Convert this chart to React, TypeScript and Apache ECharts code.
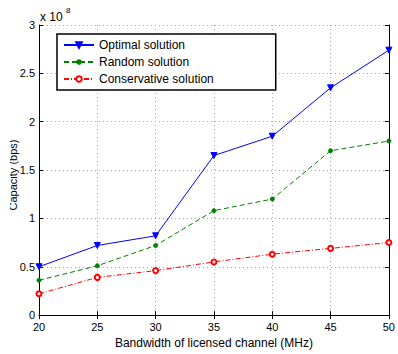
import React, { useEffect, useRef } from "react";
import * as echarts from "echarts";

const bandwidth = [20, 25, 30, 35, 40, 45, 50];
const optimal = [0.5, 0.72, 0.82, 1.65, 1.85, 2.35, 2.74];
const random = [0.36, 0.51, 0.72, 1.08, 1.2, 1.7, 1.8];
const conservative = [0.22, 0.39, 0.46, 0.55, 0.63, 0.69, 0.75];
const seriesNames = ["Optimal solution", "Random solution", "Conservative solution"];

const FONT = "Liberation Sans";

export default function App() {
  const ref = useRef<HTMLDivElement>(null);
  useEffect(() => {
    if (!ref.current) return;
    const chart = echarts.init(ref.current, undefined, { renderer: "svg" });
    const pair = (ys: number[]) => bandwidth.map((x, i) => [x, ys[i]]);
    const axisCommon = {
      axisLine: { show: true, lineStyle: { color: "#000", width: 1 } },
      axisTick: { show: true, inside: true, length: 4, lineStyle: { color: "#000" } },
    };
    chart.setOption({
      animation: false,
      backgroundColor: "#fff",
      textStyle: { fontFamily: FONT },
      grid: { left: 39, right: 6, top: 25, bottom: 32, containLabel: false },
      xAxis: [
        {
          type: "value",
          min: 20,
          max: 50,
          interval: 5,
          position: "bottom",
          ...axisCommon,
          axisLabel: { color: "#000", fontSize: 11, fontFamily: FONT, margin: 6 },
          splitLine: { show: true, lineStyle: { type: [1, 3], color: "#aaa" } },
          name: "Bandwidth of licensed channel (MHz)",
          nameLocation: "middle",
          nameGap: 16,
          nameTextStyle: { color: "#000", fontSize: 12, fontFamily: FONT },
        },
        {
          type: "value",
          min: 20,
          max: 50,
          interval: 5,
          position: "top",
          ...axisCommon,
          axisLabel: { show: false },
          splitLine: { show: false },
        },
      ],
      yAxis: [
        {
          type: "value",
          min: 0,
          max: 3,
          interval: 0.5,
          position: "left",
          ...axisCommon,
          axisLabel: { color: "#000", fontSize: 11, fontFamily: FONT, margin: 4 },
          splitLine: { show: true, lineStyle: { type: [1, 3], color: "#aaa" } },
        },
        {
          type: "value",
          min: 0,
          max: 3,
          interval: 0.5,
          position: "right",
          ...axisCommon,
          axisLabel: { show: false },
          splitLine: { show: false },
        },
      ],
      legend: {
        show: true,
        orient: "vertical",
        left: 57,
        top: 34,
        padding: [4, 62, 4, 6],
        itemGap: 3,
        itemWidth: 30,
        itemHeight: 7,
        borderColor: "#000",
        borderWidth: 1.5,
        backgroundColor: "#fff",
        textStyle: { color: "#000", fontSize: 12, fontFamily: FONT, lineHeight: 14 },
        data: seriesNames,
      },
      graphic: [
        {
          type: "text",
          left: 40,
          top: 11,
          style: { text: "x 10", fontSize: 12, fontFamily: FONT, fill: "#000" },
        },
        {
          type: "text",
          left: 66,
          top: 6,
          style: { text: "8", fontSize: 8, fontFamily: FONT, fill: "#000" },
        },
        {
          type: "text",
          x: 13,
          y: 175,
          rotation: Math.PI / 2,
          style: {
            text: "Capacity (bps)",
            fontSize: 11,
            fontFamily: FONT,
            fill: "#000",
            align: "center",
            verticalAlign: "middle",
          },
          z: 10,
        },
        {
          type: "rect",
          shape: { x: 0, y: 120, width: 10, height: 110 },
          style: { fill: "#fff" },
          z: 20,
        },
      ],
      series: [
        {
          name: seriesNames[0],
          type: "line",
          data: pair(optimal),
          symbol: "triangle",
          symbolRotate: 180,
          symbolSize: 6,
          showAllSymbol: true,
          itemStyle: { color: "#0000ff", borderColor: "#0000ff", borderWidth: 1 },
          lineStyle: { color: "#0000ff", width: 1, type: "solid" },
        },
        {
          name: seriesNames[1],
          type: "line",
          data: pair(random),
          symbol: "circle",
          symbolSize: 4,
          showAllSymbol: true,
          itemStyle: { color: "#008000", borderColor: "#008000" },
          lineStyle: { color: "#008000", width: 1, type: [5, 3] },
        },
        {
          name: seriesNames[2],
          type: "line",
          data: pair(conservative),
          symbol: "emptyCircle",
          symbolSize: 5,
          showAllSymbol: true,
          itemStyle: { color: "#ff0000", borderColor: "#ff0000", borderWidth: 1 },
          lineStyle: { color: "#ff0000", width: 1, type: [5, 2, 1, 2] },
        },
      ],
    });
    return () => chart.dispose();
  }, []);
  return (
    <div
      ref={ref}
      style={{ position: "fixed", left: 0, top: 0, width: 398, height: 354 }}
    />
  );
}
